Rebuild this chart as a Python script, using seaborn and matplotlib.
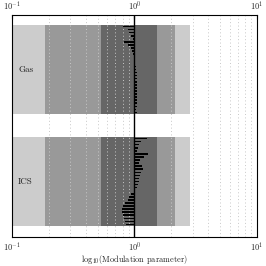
import numpy as np
import pandas as pd
import matplotlib
matplotlib.use("Agg")
import matplotlib.pyplot as plt
import seaborn as sns

groups = ["Gas", "ICS"]
gas_values = [0.80, 0.88, 0.91, 0.94, 0.98, 0.82, 0.88, 0.94, 0.96, 0.98,
              0.99, 1.00, 1.01, 1.02, 1.03, 1.04, 1.04, 1.05, 1.05, 1.04,
              1.05, 1.05, 1.04, 1.05, 1.04, 1.05, 1.04, 1.03, 1.04]
ics_values = [1.26, 1.13, 1.08, 1.06, 1.05, 1.28, 1.20, 1.10, 1.09, 1.15,
              1.17, 1.13, 1.12, 1.09, 1.08, 1.06, 1.04, 0.99, 0.93, 0.91,
              0.88, 0.83, 0.80, 0.79, 0.79, 0.81, 0.82, 0.83, 0.86]
band_low = [0.1, 0.186, 0.53]
band_high = [2.84, 2.14, 1.53]
band_colors = ["#cccccc", "#999999", "#666666"]
tick_labels = ["$10^{-1}$", "$10^{0}$", "$10^{1}$"]

sns.set_style("white")
plt.rcParams["font.family"] = ["cmr10", "DejaVu Serif"]
plt.rcParams["mathtext.fontset"] = "cm"
plt.rcParams["axes.formatter.use_mathtext"] = True

fig = plt.figure(figsize=(2.66, 2.66), dpi=100)
ax = fig.add_axes([0.045, 0.110, 0.921, 0.834])

n = len(gas_values)
gap = 7.5
starts = [0.0, n + gap]
rows = []
for g, vals, s in zip(groups, [gas_values, ics_values], starts):
    for i, v in enumerate(vals):
        rows.append({"group": g, "pos": s + i + 0.5, "logv": np.log10(v)})
df = pd.DataFrame(rows)

# bands
for s in starts:
    for lo, hi, c in zip(band_low, band_high, band_colors):
        ax.fill_betweenx([s, s + n], np.log10(lo), np.log10(hi),
                         color=c, lw=0, zorder=1)

sns.barplot(data=df, x="logv", y="pos", orient="y", native_scale=True,
            color="black", saturation=1, width=0.5, errorbar=None, ax=ax,
            linewidth=0, zorder=4)

ax.axvline(0, color="black", lw=1.0, zorder=5)

minor = [np.log10(k * 10.0 ** d) for d in (-1, 0) for k in range(2, 10)]
ax.set_xticks(minor, minor=True)
ax.grid(False)
ax.grid(which="minor", axis="x", color="#c8c8c8", lw=0.7,
        linestyle=(0, (1, 2.5)), zorder=3)
ax.set_axisbelow(False)

ax.set_xlim(-1, 1)
ax.set_ylim(n * 2 + gap + 3.5, -3.3)
ax.set_xticks([-1, 0, 1])
ax.set_xticklabels(tick_labels)
ax.set_yticks([])
ax.set_ylabel("")
ax.tick_params(axis="x", which="major", top=True, labeltop=True,
               direction="in", length=3, labelsize=6, pad=2)
ax.tick_params(axis="x", which="minor", length=0)
ax.set_xlabel("log$_{10}$(Modulation parameter)", fontsize=6, labelpad=0)

for g, s in zip(groups, starts):
    ax.text(-0.95, s + n / 2, g, fontsize=6.5, va="center", ha="left", zorder=6)

for sp in ax.spines.values():
    sp.set_color("black")
    sp.set_linewidth(0.8)
    sp.set_zorder(6)

fig.savefig("out.png", dpi=100)
